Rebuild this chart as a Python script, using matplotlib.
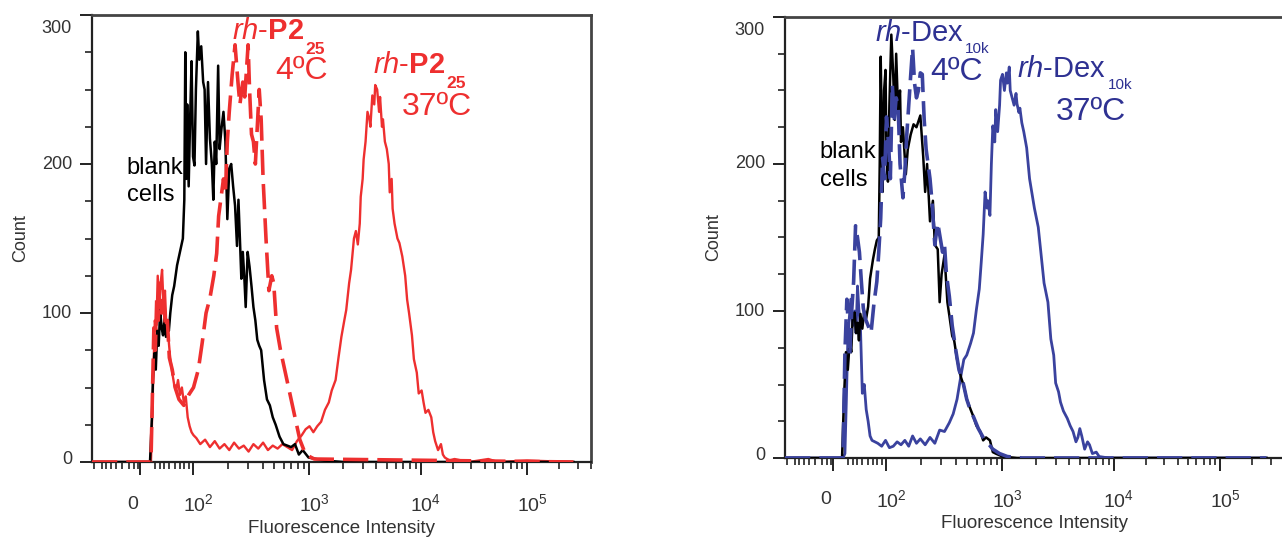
import numpy as np
import matplotlib
matplotlib.use('Agg')
import matplotlib.pyplot as plt

plt.rcParams['font.family'] = ['Liberation Sans', 'DejaVu Sans']
plt.rcParams['mathtext.fontset'] = 'custom'
plt.rcParams['mathtext.rm'] = 'Liberation Sans'
plt.rcParams['mathtext.it'] = 'Liberation Sans:italic'
plt.rcParams['mathtext.bf'] = 'Liberation Sans:bold'

# x values are display channels (0-498) of the biexponential flow axis, y are counts

# ---- left panel: rh-P2_25 ----
blank_L_x = [0, 60, 62, 63, 64.5, 66, 67.5, 69, 70.5, 72,
             73.5, 75, 76.5, 78, 79.5, 81, 83, 85, 88, 91,
             94, 95.5, 96.5, 97.5, 98.5, 100, 101.5, 103, 104.5, 106,
             107.5, 109.5, 111, 113, 115, 116.5, 118, 120, 122, 124,
             125.5, 127, 128.5, 130.5, 132, 134, 136, 138, 140, 142,
             144, 146, 148, 150, 151.5, 153, 154.5, 156, 157.5, 159,
             161, 163, 165, 167, 169, 171, 173, 175, 178, 181,
             184, 187, 190, 194, 198, 202, 206, 210, 214, 218,
             224, 232, 240, 260, 498]
blank_L_y = [0, 0, 30, 55, 73, 62, 88, 78, 102, 90,
             85, 96, 84, 95, 88, 100, 112, 118, 132, 141,
             150, 176, 275, 190, 240, 185, 230, 269, 205, 199,
             250, 289, 270, 279, 255, 250, 200, 255, 217, 200,
             176, 215, 200, 266, 210, 224, 235, 215, 163, 197,
             200, 185, 172, 145, 176, 150, 123, 141, 125, 104,
             141, 131, 118, 104, 95, 82, 78, 75, 55, 42,
             38, 30, 25, 17, 12, 11, 10, 12, 5, 8,
             3, 2, 1, 0, 0]

p2_4C_x = [0, 61, 62.5, 64, 65.5, 67, 68.5, 70, 72, 74,
           76, 78, 80, 83, 86, 90, 95, 100, 105, 110,
           114, 118, 122, 126, 129, 131, 133, 136, 138, 140,
           142, 145, 148, 151, 153, 156, 158, 160, 161.5, 163,
           165, 167, 169, 171, 173, 175, 177, 180, 183, 186,
           188, 191, 195, 200, 205, 210, 215, 221, 230, 498]
p2_4C_y = [0, 0, 45, 90, 75, 110, 95, 120, 100, 112,
           90, 95, 70, 62, 50, 42, 38, 45, 50, 62,
           80, 100, 110, 125, 140, 165, 175, 190, 180, 215,
           235, 260, 280, 255, 240, 255, 245, 265, 280, 250,
           220, 215, 200, 225, 250, 230, 190, 150, 115, 125,
           120, 90, 75, 60, 45, 30, 15, 5, 2, 0]

p2_37C_x = [0, 61, 62, 63.5, 65, 66.5, 68, 69.5, 71, 72.5,
            74, 75.5, 77, 79, 81, 83, 85, 87, 89, 91,
            93, 95, 97, 99, 101, 103, 105, 108, 112, 117,
            122, 127, 132, 137, 142, 147, 152, 157, 162, 167,
            172, 177, 182, 187, 192, 197, 202, 207, 212, 217,
            221, 225, 229, 233, 237, 241, 245, 248, 252, 255,
            258, 261, 263, 266, 268, 271, 273, 275, 277, 278,
            280, 281, 283, 285, 287, 288, 290, 292, 293, 295,
            297, 298, 300, 301, 303, 305, 307, 308, 310, 311,
            313, 316, 318, 321, 324, 326, 328, 331, 333, 336,
            338, 341, 343, 345, 348, 351, 353, 355, 357, 358,
            361, 363, 365, 370, 375, 390, 410, 420, 450, 498]
p2_37C_y = [0, 0, 25, 60, 95, 88, 125, 100, 120, 129,
            105, 115, 90, 84, 69, 60, 52, 48, 55, 45,
            50, 40, 44, 30, 24, 20, 18, 16, 12, 15,
            10, 14, 9, 12, 8, 13, 9, 11, 7, 12,
            9, 13, 8, 11, 9, 12, 10, 8, 14, 18,
            22, 24, 20, 24, 27, 35, 40, 48, 55, 70,
            84, 95, 102, 120, 129, 150, 155, 146, 160, 178,
            190, 203, 215, 235, 230, 225, 246, 240, 253, 250,
            235, 245, 225, 230, 215, 210, 200, 181, 190, 170,
            160, 150, 147, 138, 125, 109, 100, 85, 69, 60,
            46, 48, 40, 33, 35, 30, 20, 14, 10, 8,
            12, 5, 3, 1, 2, 0, 2, 0, 1, 0]

# ---- right panel: rh-Dex_10k ----
blank_R_x = [0, 59, 61, 63, 65, 67, 68.5, 70, 72, 73.5,
             75, 76.5, 78, 80, 82, 84, 86, 88, 91, 93,
             95, 97, 98, 99, 100, 101, 102.5, 104, 105, 106.5,
             108, 110, 112, 113.5, 115, 117, 119, 120, 122, 125,
             127, 130, 133, 136, 140, 143, 145, 147, 150, 153,
             155, 158, 160, 162, 165, 168, 170, 173, 175, 178,
             182, 185, 188, 192, 195, 198, 202, 205, 208, 212,
             215, 218, 225, 240, 498]
blank_R_y = [0, 0, 40, 72, 60, 80, 72, 95, 99, 85,
             92, 80, 98, 88, 100, 95, 103, 122, 135, 142,
             148, 150, 200, 273, 230, 181, 250, 264, 205, 188,
             240, 288, 260, 230, 275, 236, 250, 215, 225, 193,
             210, 220, 227, 225, 233, 205, 181, 200, 161, 175,
             145, 142, 106, 125, 138, 106, 97, 83, 80, 67,
             55, 49, 40, 33, 28, 22, 18, 12, 14, 12,
             4, 3, 1, 0, 0]

dex_4C_x = [0, 60, 62, 64, 65.5, 67, 69, 71, 73, 75,
            77, 79, 81, 83, 86, 89, 92, 95, 97, 99,
            101, 103, 105, 107, 109, 111, 113, 115, 117, 119,
            122, 124, 126, 128, 130, 132, 134, 136, 138, 140,
            142, 144, 146, 148, 150, 152, 155, 158, 160, 163,
            165, 167, 170, 173, 177, 180, 184, 188, 192, 195,
            200, 205, 210, 215, 222, 230, 245, 498]
dex_4C_y = [0, 0, 72, 108, 90, 70, 100, 120, 158, 150,
            140, 120, 102, 95, 90, 85, 105, 120, 140, 163,
            204, 190, 232, 215, 190, 254, 230, 245, 240, 200,
            177, 195, 220, 240, 260, 279, 255, 245, 250, 262,
            261, 230, 210, 200, 190, 175, 145, 160, 152, 140,
            145, 125, 110, 90, 72, 60, 52, 40, 32, 28,
            20, 14, 10, 6, 3, 1, 0, 0]

dex_37C_x = [0, 60, 62, 63.5, 65, 66.5, 68, 70, 72, 73.5,
             75, 76.5, 78, 80, 82, 84, 86, 88, 90, 93,
             96, 100, 104, 108, 112, 116, 120, 124, 128, 132,
             136, 140, 145, 150, 155, 160, 165, 170, 174, 178,
             182, 185, 188, 192, 195, 198, 201, 203, 205, 207,
             209, 210, 212, 213.5, 215, 217, 218, 220, 222, 223,
             225, 227, 229, 230, 232, 233, 235, 237, 239, 240,
             242, 243, 245, 247, 250, 253, 256, 258, 262, 265,
             268, 272, 275, 278, 280, 283, 285, 288, 292, 295,
             298, 301, 303, 305, 307, 310, 313, 315, 318, 322,
             325, 335, 350, 498]
dex_37C_y = [0, 0, 3, 40, 81, 95, 108, 90, 100, 85,
             117, 100, 90, 44, 50, 33, 25, 15, 12, 11,
             10, 8, 12, 7, 8, 11, 9, 12, 8, 15,
             10, 13, 9, 14, 10, 19, 18, 24, 30, 40,
             56, 67, 70, 78, 85, 101, 115, 133, 152, 181,
             170, 175, 165, 200, 226, 215, 237, 222, 240, 257,
             261, 250, 262, 255, 266, 250, 245, 240, 248, 241,
             235, 238, 228, 222, 211, 190, 178, 170, 157, 138,
             119, 106, 81, 70, 51, 45, 38, 32, 27, 22,
             18, 11, 14, 20, 15, 6, 11, 9, 3, 4,
             1, 0, 0, 0]

# axis ticks (channel position of each decade) and label text
major_pos = [50, 104, 225, 340, 450]
major_lab = ['0', '$10^2$', '$10^3$', '$10^4$', '$10^5$']
lab_pos = [42, 110, 230, 345, 456]
lin_minor = [2, 10, 15, 20, 25, 31, 38, 43, 48, 65, 70, 75, 80, 86, 91, 95, 100]
count_ticks = [0, 100, 200, 300]
count_lab_pos = [2, 100, 200, 291]

RED = '#EE2F2F'
BLUE = '#3A429E'
BLUE_TXT = '#2E3192'
GREY = '#333333'

log_minor = []
for i in range(1, 4):
    a, b = major_pos[i], major_pos[i + 1]
    for m in range(2, 10):
        log_minor.append(a + (b - a) * np.log10(m))
for m in range(2, 5):
    log_minor.append(450 + 110 * np.log10(m))

fig = plt.figure(figsize=(12.82, 5.40), dpi=100)
ax1 = fig.add_axes([92/1282, 78/540, 499/1282, 447/540])
ax2 = fig.add_axes([785/1282, 82/540, 499/1282, 441/540])


def style(ax):
    ax.set_xlim(0, 498)
    ax.set_ylim(0, 300)
    ax.set_yticks(count_ticks)
    ax.set_yticklabels([])
    ax.set_yticks(np.arange(0, 301, 25), minor=True)
    ax.set_xticks(major_pos)
    ax.set_xticklabels([])
    ax.set_xticks(lin_minor + log_minor, minor=True)
    ax.tick_params(axis='both', which='major', direction='out', length=9, width=1.4,
                   color='#222222')
    ax.tick_params(axis='both', which='minor', direction='out', length=5, width=1.2,
                   color='#222222')
    for s in ['left', 'bottom']:
        ax.spines[s].set_linewidth(1.6)
        ax.spines[s].set_color('#222222')
    for s in ['top', 'right']:
        ax.spines[s].set_linewidth(2.0)
        ax.spines[s].set_color('#444444')
    tr = ax.get_xaxis_transform()
    for p, lab in zip(lab_pos, major_lab):
        ax.text(p, -0.095, lab, transform=tr, ha='center', va='center',
                fontsize=14, color=GREY)
    ty = ax.get_yaxis_transform()
    for v, p in zip(count_ticks, count_lab_pos):
        ax.text(-0.04, p, str(v), transform=ty, ha='right', va='center',
                fontsize=13, color=GREY)
    ax.text(0.5, -0.148, 'Fluorescence Intensity', transform=ax.transAxes,
            ha='center', va='center', fontsize=13.5, color=GREY)
    ax.text(-0.143, 0.5, 'Count', transform=ax.transAxes, rotation=90,
            ha='center', va='center', fontsize=13, color=GREY)


def label(ax, x, y, main, sub, color, size, subsize, dy, bold):
    t = ax.text(x, y, main, fontsize=size, color=color)
    ax.annotate(sub, xy=(1, 0), xycoords=t, xytext=(1, dy), textcoords='offset points',
                fontsize=subsize, color=color, va='center', ha='left',
                fontweight='bold' if bold else 'normal')


style(ax1)
style(ax2)

# left panel curves
ax1.plot(p2_37C_x, p2_37C_y, color=RED, lw=1.7, zorder=2)
ax1.plot(blank_L_x, blank_L_y, color='black', lw=1.8, zorder=3)
l4 = ax1.plot(p2_4C_x, p2_4C_y, color=RED, lw=2.6, zorder=4)[0]
l4.set_dashes((7, 2.5))

ax1.text(36, 193, 'blank', fontsize=17, color='black')
ax1.text(36, 175, 'cells', fontsize=17, color='black')
label(ax1, 145, 284, r'$\mathit{rh}$-$\mathbf{P2}$', '25', RED, 21, 12.5, -3, True)
ax1.text(244, 257, '4ºC', fontsize=23, color=RED, ha='right')
label(ax1, 291, 261, r'$\mathit{rh}$-$\mathbf{P2}$', '25', RED, 21, 12.5, -3, True)
ax1.text(393, 233, '37ºC', fontsize=23, color=RED, ha='right')

# right panel curves
ax2.plot(dex_37C_x, dex_37C_y, color=BLUE, lw=2.0, zorder=2)
ax2.plot(blank_R_x, blank_R_y, color='black', lw=1.8, zorder=3)
d4 = ax2.plot(dex_4C_x, dex_4C_y, color=BLUE, lw=2.6, zorder=4)[0]
d4.set_dashes((7, 2.5))

ax2.text(36, 204, 'blank', fontsize=17, color='black')
ax2.text(36, 185, 'cells', fontsize=17, color='black')
label(ax2, 93, 284, r'$\mathit{rh}$-Dex', '10k', BLUE_TXT, 21, 11, -1.5, False)
ax2.text(205, 257, '4ºC', fontsize=23, color=BLUE_TXT, ha='right')
label(ax2, 240, 259, r'$\mathit{rh}$-Dex', '10k', BLUE_TXT, 21, 11, -1.5, False)
ax2.text(353, 230, '37ºC', fontsize=23, color=BLUE_TXT, ha='right')

fig.savefig('out.png', dpi=100)
